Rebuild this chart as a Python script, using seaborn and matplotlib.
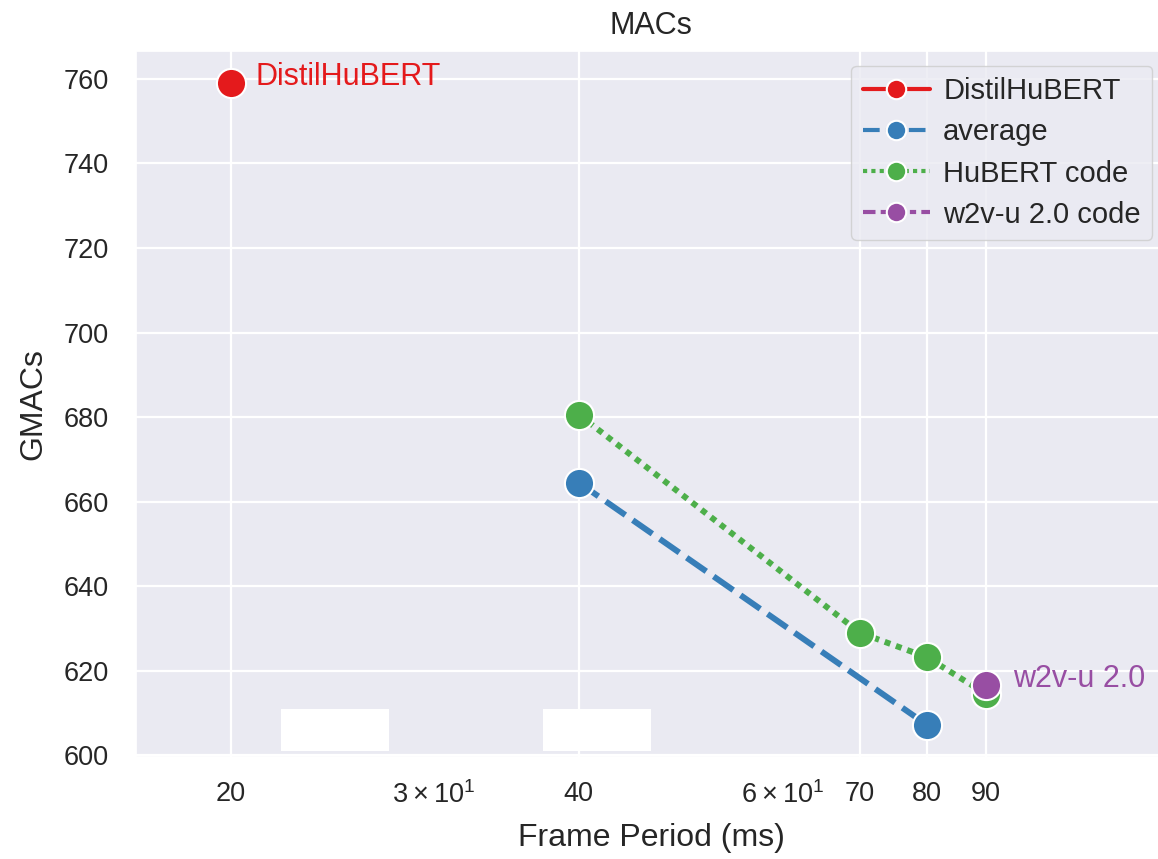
import numpy as np
import pandas as pd
import matplotlib
matplotlib.use("Agg")
import matplotlib.pyplot as plt
import seaborn as sns
from matplotlib.patches import Rectangle

# ---- data ----
series_names = ["DistilHuBERT", "average", "HuBERT code", "w2v-u 2.0 code"]
distil_x = [20]
distil_y = [759.0]
avg_x = [40, 80]
avg_y = [664.5, 607.2]
hubert_x = [40, 70, 80, 90]
hubert_y = [680.6, 629.0, 623.2, 614.5]
w2v_x = [90]
w2v_y = [616.6]
major_ticks = [20, 40, 70, 80, 90]
major_labels = ["20", "40", "70", "80", "90"]

rows = []
for name, xs, ys in zip(series_names,
                        [distil_x, avg_x, hubert_x, w2v_x],
                        [distil_y, avg_y, hubert_y, w2v_y]):
    for x, y in zip(xs, ys):
        rows.append({"method": name, "frame": x, "gmacs": y})
df = pd.DataFrame(rows)

sns.set_theme(style="darkgrid", rc={"grid.linewidth": 1.6})
plt.rcParams["font.family"] = ["Liberation Sans", "DejaVu Sans"]
plt.rcParams["mathtext.default"] = "regular"

palette = sns.color_palette("Set1", 4)

fig = plt.figure(figsize=(11.58, 8.59), dpi=100)
ax = fig.add_axes([135.5 / 1158, 102 / 859, (1167 - 135.5) / 1158, 706 / 859])

sns.lineplot(data=df, x="frame", y="gmacs", hue="method", style="method",
             hue_order=series_names, style_order=series_names,
             palette=palette, markers=["o"] * 4, dashes=True,
             markersize=21, markeredgecolor="white", markeredgewidth=1.5,
             linewidth=4.3, ax=ax)

ax.set_xscale("log")
ax.set_xlim(16.55, 129)
ax.set_xticks(major_ticks, labels=major_labels)
ax.tick_params(axis="both", which="both", length=0)
ax.tick_params(axis="x", which="both", labelsize=19.5, pad=17.5)
ax.tick_params(axis="y", labelsize=19.5, pad=19.5)

ax.set_xlabel("Frame Period (ms)", fontsize=23, labelpad=10)
ax.set_ylabel("GMACs", fontsize=23, labelpad=11)
ax.set_title("MACs", fontsize=22, pad=12)

ax.annotate("DistilHuBERT", (distil_x[0], distil_y[0]), xytext=(25, -2),
            textcoords="offset pixels", color=palette[0], fontsize=22,
            va="baseline", ha="left")
ax.annotate("w2v-u 2.0", (w2v_x[0], w2v_y[0]), xytext=(27, -2),
            textcoords="offset pixels", color=palette[3], fontsize=22,
            va="baseline", ha="left")

old = ax.get_legend()
handles = old.legend_handles
labels = [t.get_text() for t in old.get_texts()]
for h in handles:
    h.set_markersize(14)
    h.set_linewidth(3)
ax.legend(handles, labels, loc="upper right", fontsize=21, title=None,
          handlelength=2.3, handletextpad=0.45, labelspacing=0.45)

# white blank boxes near the bottom
for x0 in (281, 543):
    fig.patches.append(Rectangle((x0 / 1158, (859 - 751) / 859), 108 / 1158, 42 / 859,
                                 transform=fig.transFigure, facecolor="white",
                                 edgecolor="none", zorder=5))

fig.savefig("out.png", dpi=100)
